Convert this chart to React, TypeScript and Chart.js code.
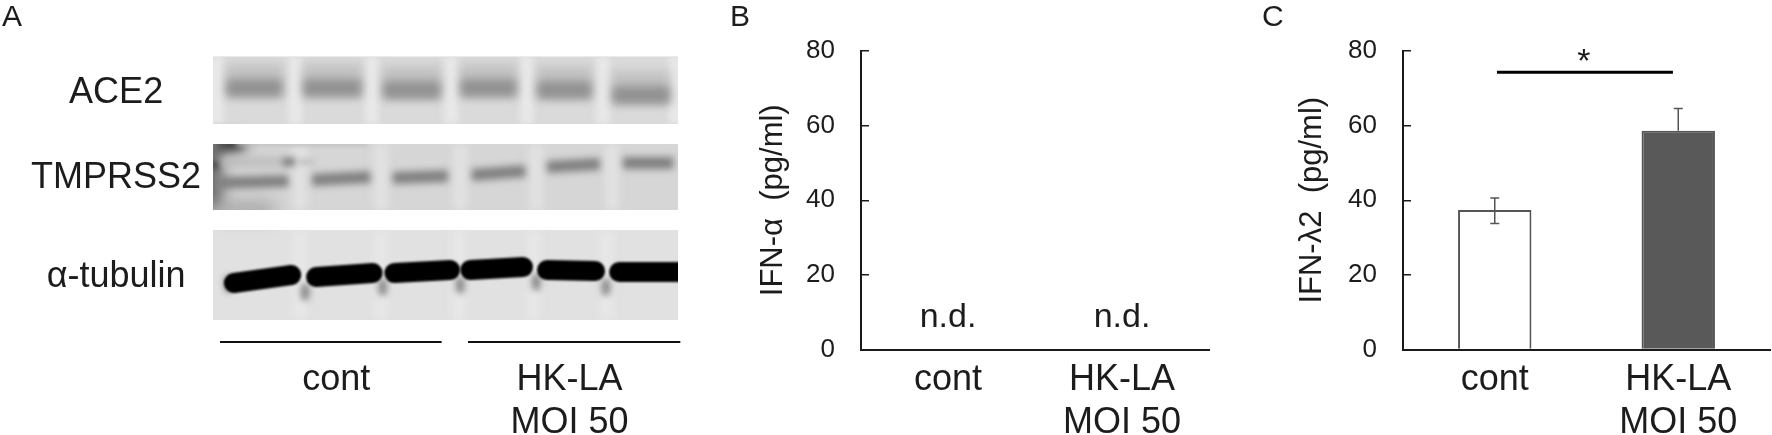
import React, { useEffect, useRef } from "react";
import { Chart, registerables } from "chart.js";

Chart.register(...registerables);

const FONT = "'Liberation Sans', Arial, sans-serif";
const INK = "#1c1c1c";

// Bar panels
const categories: (string | string[])[] = ["cont", ["HK-LA", "MOI 50"]];
const yTicks = [0, 20, 40, 60, 80];
const alphaValues = [0, 0];
const alphaNotes = ["n.d.", "n.d."];
const alphaNoteLevel = 6.0;
const lambdaValues = [37.4, 58.6];
const lambdaErrHigh = [40.6, 64.6];
const lambdaErrLow = [33.8, 58.6];
const sigLevel = 74.3;
const sigSpan = [0.512, 1.471];
const sigStarAt = 0.986;

// Blot: x in lane units (0..6), y in gel units from the top of the stack (0..264)
const rowNames = ["ACE2", "TMPRSS2", "α-tubulin"];
const rowNameY = [37, 122, 221];
const rowNameX = -1.25;
const membraneTop = [0.5, 88, 174];
const membraneBottom = [68, 154, 264];
const membraneFill = ["#dadada", "#d6d6d6", "#e1e1e1"];
const ace2Gaps = [0.05, 1.06, 2.05, 3.07, 4.05, 5.03, 5.97];
const tmprssGaps = [1.12, 2.17, 3.19, 4.17, 5.15];
const tubulinGaps = [1.12, 2.17, 3.17, 4.14, 5.08];
const ace2Start = [0.17, 1.16, 2.19, 3.19, 4.18, 5.15];
const ace2End = [0.9, 1.92, 2.94, 3.92, 4.89, 5.9];
const ace2Y = [32, 32, 34, 32, 34, 39];
const tmprssStart = [0.06, 1.28, 2.32, 3.34, 4.31, 5.29];
const tmprssEnd = [0.97, 2.03, 3.03, 4.03, 4.99, 5.94];
const tmprssYStart = [127, 124, 122, 119, 111, 107];
const tmprssYEnd = [125, 121, 120, 115, 108, 107];
const tubulinStart = [0.27, 1.33, 2.34, 3.32, 4.31, 5.24];
const tubulinEnd = [1.01, 2.06, 3.06, 4.0, 4.93, 6.1];
const tubulinYStart = [227, 221, 217, 214, 214, 216];
const tubulinYEnd = [219, 217, 214, 211, 215, 216];
const tailX = [0.2, 1.19, 2.19, 3.19, 4.17, 5.07];
const tailY = [232, 240, 235, 233, 230, 235];
const groupRules = [[0.09, 2.95], [3.29, 6.03]];
const groupRuleY = 286;
const groupNames = [
  { lines: ["cont"], x: 1.59 },
  { lines: ["HK-LA", "MOI 50"], x: 4.6 },
];

function seg(x0: number, y0: number, x1: number, y1: number, width: number, color: string, blur: number, extra: any = {}) {
  return {
    data: [{ x: x0, y: y0 }, { x: x1, y: y1 }],
    borderColor: color,
    borderWidth: width,
    pointRadius: 0,
    tension: 0,
    blot: true,
    blur,
    ...extra,
  };
}

function blotDatasets() {
  const out: any[] = [];
  // lighter wells between lanes
  ace2Gaps.forEach((x) => out.push(seg(x, membraneTop[0], x, membraneBottom[0], 14, "#e8e8e8", 3)));
  tmprssGaps.forEach((x) => out.push(seg(x, membraneTop[1], x, membraneBottom[1], 14, "#e2e2e2", 4)));
  tubulinGaps.forEach((x) => out.push(seg(x, membraneTop[2], x, membraneBottom[2], 12, "#e8e8e8", 4)));
  // ACE2 haze + bands
  ace2Start.forEach((s, i) => {
    out.push(seg(s, ace2Y[i] - 8, ace2End[i], ace2Y[i] - 8, 32, "#c2c2c2", 5));
    out.push(seg(s + 0.01, ace2Y[i], ace2End[i] - 0.01, ace2Y[i], 18, "#929292", 4.5));
  });
  // TMPRSS2 smear at the corner
  out.push(seg(0, 88, 0.4, 88, 14, "#101010", 7));
  out.push(seg(0.3, 88, 2.0, 88, 3, "#b8b8b8", 2));
  out.push(seg(0, 88, 0, 154, 16, "#4e4e4e", 8));
  out.push(seg(0.03, 106, 0.03, 112, 8, "#333333", 3));
  out.push(seg(0.05, 154, 0.8, 154, 16, "#a0a0a0", 9));
  out.push(seg(0.1, 106, 0.93, 106, 10, "#bcbcbc", 5));
  out.push(seg(0.9, 106, 1.06, 106, 7, "#6e6e6e", 3.5));
  out.push(seg(1.1, 106, 1.3, 106, 4, "#b4b4b4", 3));
  // TMPRSS2 bands
  tmprssStart.forEach((s, i) => {
    out.push(seg(s, tmprssYStart[i], tmprssEnd[i], tmprssYEnd[i], 12, "#808080", 3.5));
  });
  // Tubulin tails + bands
  tailX.forEach((x, i) => {
    out.push(seg(x, tailY[i] - 8, x, tailY[i], 9, "#8c8c8c", 3, { borderCapStyle: "round" }));
  });
  tubulinStart.forEach((s, i) => {
    out.push(seg(s, tubulinYStart[i], tubulinEnd[i], tubulinYEnd[i], 20, "#000000", 1.2, { borderCapStyle: "round" }));
  });
  // Group rules under the blot
  groupRules.forEach((r) => {
    out.push({
      data: [{ x: r[0], y: groupRuleY }, { x: r[1], y: groupRuleY }],
      borderColor: "#111111",
      borderWidth: 2,
      pointRadius: 0,
      clip: false,
    });
  });
  // Chart.js paints the first dataset last, so the list is turned round here
  return out.reverse();
}

const blotPlugin = {
  id: "blot",
  beforeDatasetsDraw(chart: any) {
    const { ctx, scales } = chart;
    const { x, y } = scales;
    ctx.save();
    membraneTop.forEach((t, i) => {
      ctx.fillStyle = membraneFill[i];
      const top = y.getPixelForValue(t);
      ctx.fillRect(x.getPixelForValue(0), top, x.getPixelForValue(6) - x.getPixelForValue(0), y.getPixelForValue(membraneBottom[i]) - top);
    });
    ctx.restore();
  },
  beforeDatasetDraw(chart: any, args: any) {
    const ds = chart.data.datasets[args.index];
    if (!ds.blot) return;
    const { ctx, scales } = chart;
    const { x, y } = scales;
    ctx.save();
    ctx.beginPath();
    membraneTop.forEach((t, i) => {
      const top = y.getPixelForValue(t);
      ctx.rect(x.getPixelForValue(0), top, x.getPixelForValue(6) - x.getPixelForValue(0), y.getPixelForValue(membraneBottom[i]) - top);
    });
    ctx.clip();
    ctx.filter = `blur(${ds.blur}px)`;
  },
  afterDatasetDraw(chart: any, args: any) {
    const ds = chart.data.datasets[args.index];
    if (ds.blot) chart.ctx.restore();
  },
  afterDraw(chart: any) {
    const { ctx, scales } = chart;
    const { x, y } = scales;
    ctx.save();
    ctx.fillStyle = INK;
    ctx.font = `36px ${FONT}`;
    ctx.textAlign = "center";
    ctx.textBaseline = "middle";
    rowNames.forEach((n, i) => ctx.fillText(n, x.getPixelForValue(rowNameX), y.getPixelForValue(rowNameY[i])));
    ctx.textBaseline = "alphabetic";
    groupNames.forEach((g) =>
      g.lines.forEach((l, i) => ctx.fillText(l, x.getPixelForValue(g.x), y.getPixelForValue(334 + i * 43)))
    );
    ctx.restore();
  },
};

const letterPlugin = {
  id: "letter",
  afterDraw(chart: any, _a: any, opts: any) {
    if (!opts.text) return;
    const { ctx } = chart;
    ctx.save();
    ctx.fillStyle = INK;
    ctx.font = `30px ${FONT}`;
    ctx.textAlign = "left";
    ctx.textBaseline = "alphabetic";
    ctx.fillText(opts.text, opts.x, 26);
    ctx.restore();
  },
};

const notesPlugin = {
  id: "notes",
  afterDatasetsDraw(chart: any, _a: any, opts: any) {
    const { ctx, scales } = chart;
    ctx.save();
    ctx.fillStyle = INK;
    ctx.font = `34px ${FONT}`;
    ctx.textAlign = "center";
    ctx.textBaseline = "alphabetic";
    (opts.notes || []).forEach((n: string, i: number) =>
      ctx.fillText(n, scales.x.getPixelForValue(i), scales.y.getPixelForValue(alphaNoteLevel))
    );
    if (opts.star) {
      ctx.fillText("*", scales.x2.getPixelForValue(sigStarAt), scales.y.getPixelForValue(sigLevel));
    }
    ctx.restore();
  },
};

const errorPlugin = {
  id: "errors",
  afterDatasetsDraw(chart: any, _a: any, opts: any) {
    if (!opts.high) return;
    const { ctx, scales } = chart;
    ctx.save();
    ctx.strokeStyle = "#555555";
    ctx.lineWidth = 1.5;
    opts.high.forEach((h: number, i: number) => {
      const px = scales.x.getPixelForValue(i);
      const hi = scales.y.getPixelForValue(h);
      const lo = scales.y.getPixelForValue(opts.low[i]);
      ctx.beginPath();
      ctx.moveTo(px, hi);
      ctx.lineTo(px, lo);
      ctx.moveTo(px - 4.5, hi);
      ctx.lineTo(px + 4.5, hi);
      if (opts.low[i] !== lambdaValues[i]) {
        ctx.moveTo(px - 4.5, lo);
        ctx.lineTo(px + 4.5, lo);
      }
      ctx.stroke();
    });
    ctx.restore();
  },
};

function barOptions(axisW: number, rightPad: number, title: string, titlePad: number, plugins: any) {
  return {
    responsive: false,
    animation: false as const,
    devicePixelRatio: 1,
    layout: { padding: { left: 0, right: rightPad, top: 51, bottom: 0 } },
    plugins: { legend: { display: false }, tooltip: { enabled: false }, ...plugins },
    scales: {
      x: {
        type: "category" as const,
        offset: true,
        afterFit(s: any) {
          s.height = 85.5;
        },
        border: { color: "#1a1a1a", width: 2 },
        grid: { display: true, drawOnChartArea: false, drawTicks: false, color: "transparent" },
        ticks: {
          autoSkip: false,
          maxRotation: 0,
          minRotation: 0,
          padding: 9,
          color: INK,
          font: { family: FONT, size: 36, lineHeight: 1.19 },
        },
      },
      y: {
        min: 0,
        max: 80,
        afterFit(s: any) {
          s.width = axisW;
        },
        afterBuildTicks(s: any) {
          s.ticks = yTicks.map((value) => ({ value }));
        },
        border: { color: "#1a1a1a", width: 2 },
        grid: { drawOnChartArea: false, drawTicks: true, tickLength: -8, color: "#1a1a1a", lineWidth: 1.5 },
        ticks: { padding: 34, color: INK, font: { family: FONT, size: 26 } },
        title: {
          display: true,
          text: title,
          color: INK,
          padding: { top: titlePad, bottom: 0 },
          font: { family: FONT, size: 31, lineHeight: 1.2 },
        },
      },
    },
  };
}

export default function App() {
  const a = useRef<HTMLCanvasElement>(null);
  const b = useRef<HTMLCanvasElement>(null);
  const c = useRef<HTMLCanvasElement>(null);

  useEffect(() => {
    const chartA = new Chart(a.current!, {
      type: "line",
      data: { datasets: blotDatasets() },
      options: {
        responsive: false,
        animation: false,
        devicePixelRatio: 1,
        layout: { padding: { left: 213, right: 22, top: 56, bottom: 115 } },
        plugins: { legend: { display: false }, tooltip: { enabled: false }, letter: { text: "A", x: 2 } },
        scales: {
          x: { type: "linear", display: false, min: 0, max: 6 },
          y: { type: "linear", display: false, min: 0, max: 264, reverse: true },
        },
      } as any,
      plugins: [blotPlugin, letterPlugin],
    });

    const chartB = new Chart(b.current!, {
      type: "bar",
      data: {
        labels: categories as any,
        datasets: [{ data: alphaValues, backgroundColor: "#ffffff", categoryPercentage: 1, barPercentage: 0.4 }],
      },
      options: barOptions(161, 41, "IFN-α  (pg/ml)", 55, { notes: { notes: alphaNotes }, letter: { text: "B", x: 30 } }) as any,
      plugins: [notesPlugin, letterPlugin],
    });

    const opts: any = barOptions(153, 2, "IFN-λ2  (pg/ml)", 44, {
      notes: { star: true },
      errors: { high: lambdaErrHigh, low: lambdaErrLow },
      letter: { text: "C", x: 12 },
    });
    opts.scales.x2 = { type: "linear", display: false, min: 0, max: 2, offset: false };
    const chartC = new Chart(c.current!, {
      type: "bar",
      data: {
        labels: categories as any,
        datasets: [
          {
            data: lambdaValues,
            backgroundColor: ["#ffffff", "#595959"],
            borderColor: "#555555",
            borderWidth: 2,
            borderSkipped: "bottom",
            grouped: false,
            categoryPercentage: 1,
            barPercentage: 0.4,
          },
          {
            type: "line",
            xAxisID: "x2",
            data: [{ x: sigSpan[0], y: sigLevel }, { x: sigSpan[1], y: sigLevel }],
            borderColor: "#000000",
            borderWidth: 3,
            pointRadius: 0,
          },
        ] as any,
      },
      options: opts,
      plugins: [notesPlugin, errorPlugin, letterPlugin],
    });

    return () => {
      chartA.destroy();
      chartB.destroy();
      chartC.destroy();
    };
  }, []);

  const pos = (left: number, w: number): React.CSSProperties => ({ position: "absolute", left, top: 0, width: w, height: 435 });

  return (
    <div style={{ position: "fixed", left: 0, top: 0, width: 1772, height: 435, background: "#fff", overflow: "hidden" }}>
      <canvas ref={a} width={700} height={435} style={pos(0, 700)} />
      <canvas ref={b} width={550} height={435} style={pos(700, 550)} />
      <canvas ref={c} width={522} height={435} style={pos(1250, 522)} />
    </div>
  );
}
